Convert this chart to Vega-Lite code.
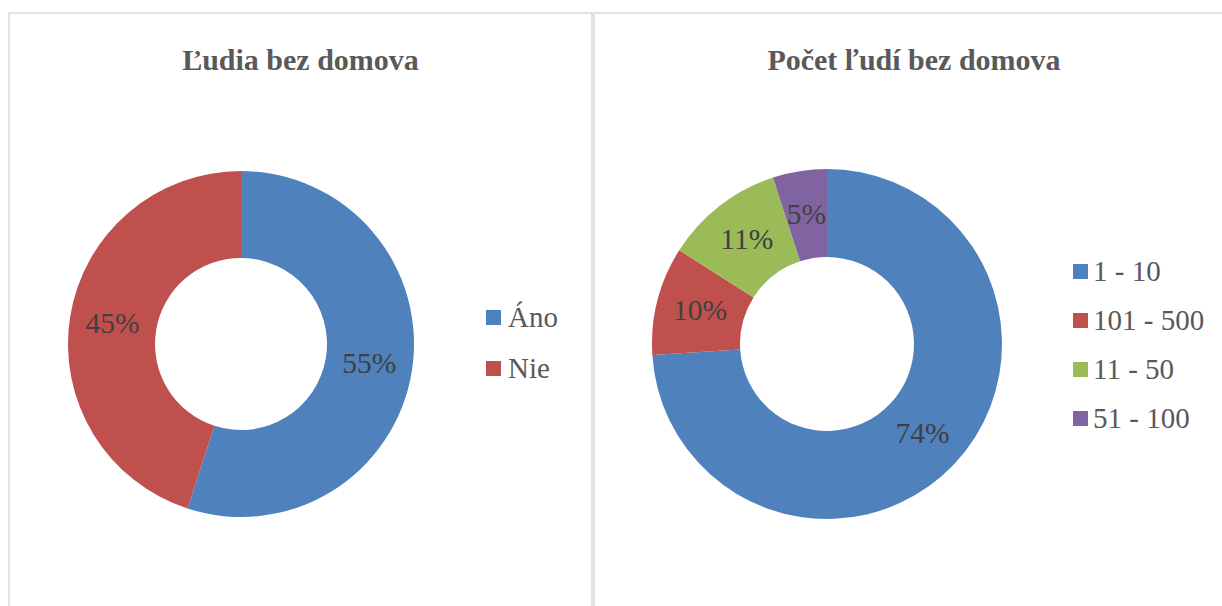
{
  "$schema": "https://vega.github.io/schema/vega-lite/v6.json",
  "padding": {"left": 8, "top": 12, "right": 0, "bottom": 0},
  "background": "white",
  "spacing": 0,
  "config": {
    "view": {"stroke": "#d9d9d9", "strokeWidth": 1.5},
    "title": {"font": "Liberation Serif, Times New Roman, serif", "fontSize": 30, "fontWeight": "bold", "color": "#595959", "anchor": "middle", "frame": "group", "offset": -63, "baseline": "alphabetic"},
    "legend": {"labelFont": "Liberation Serif, Times New Roman, serif", "labelFontSize": 29, "labelColor": "#595959", "symbolType": "square", "symbolSize": 225, "symbolStrokeWidth": 0, "labelOffset": 0, "orient": "none", "title": null}
  },
  "datasets": {
    "a": [
      {"cat": "Áno", "value": 55, "ord": 1, "lab": "55%"},
      {"cat": "Nie", "value": 45, "ord": 2, "lab": "45%"}
    ],
    "b": [
      {"cat": "1 - 10", "value": 74, "ord": 1, "lab": "74%"},
      {"cat": "101 - 500", "value": 10, "ord": 2, "lab": "10%"},
      {"cat": "11 - 50", "value": 11, "ord": 3, "lab": "11%"},
      {"cat": "51 - 100", "value": 5, "ord": 4, "lab": "5%"}
    ]
  },
  "hconcat": [
    {
      "width": 583,
      "height": 620,
      "view": {"stroke": "#d9d9d9", "strokeWidth": 1.5, "fill": "white"},
      "title": {"text": "Ľudia bez domova"},
      "data": {"name": "a"},
      "encoding": {
        "theta": {"field": "value", "type": "quantitative", "stack": true},
        "order": {"field": "ord", "type": "quantitative"}
      },
      "layer": [
        {
          "mark": {"type": "arc", "outerRadius": 173, "innerRadius": 86, "x": 232, "y": 331},
          "encoding": {
            "color": {"field": "cat", "type": "nominal", "scale": {"domain": ["Áno", "Nie"], "range": ["#4F81BD", "#C0504D"]}, "legend": {"legendX": 470, "legendY": 290, "rowPadding": 21, "labelOffset": 0}}
          }
        },
        {
          "mark": {"type": "text", "radius": 130, "x": 232, "y": 331, "font": "Liberation Serif, Times New Roman, serif", "fontSize": 29.5, "color": "#404040"},
          "encoding": {"text": {"field": "lab"}}
        }
      ]
    },
    {
      "width": 640,
      "height": 620,
      "view": {"stroke": "#d9d9d9", "strokeWidth": 1.5, "fill": "white"},
      "title": {"text": "Počet ľudí bez domova"},
      "data": {"name": "b"},
      "encoding": {
        "theta": {"field": "value", "type": "quantitative", "stack": true},
        "order": {"field": "ord", "type": "quantitative"}
      },
      "layer": [
        {
          "mark": {"type": "arc", "outerRadius": 175, "innerRadius": 87, "x": 233, "y": 331},
          "encoding": {
            "color": {"field": "cat", "type": "nominal", "scale": {"domain": ["1 - 10", "101 - 500", "11 - 50", "51 - 100"], "range": ["#4F81BD", "#C0504D", "#9BBB59", "#8064A2"]}, "legend": {"legendX": 472, "legendY": 244, "rowPadding": 19, "labelOffset": -2}}
          }
        },
        {
          "mark": {"type": "text", "radius": 131, "x": 233, "y": 331, "font": "Liberation Serif, Times New Roman, serif", "fontSize": 29.5, "color": "#404040"},
          "encoding": {"text": {"field": "lab"}}
        }
      ]
    }
  ],
  "resolve": {"scale": {"color": "independent"}, "legend": {"color": "independent"}}
}
